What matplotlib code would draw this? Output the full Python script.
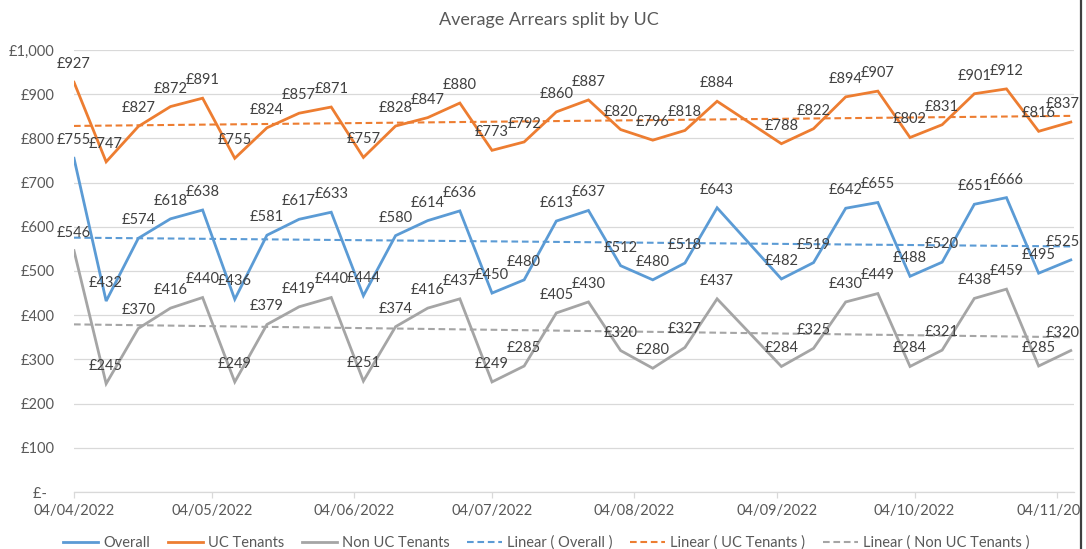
import numpy as np
import pandas as pd
import matplotlib
matplotlib.use('Agg')
import matplotlib.pyplot as plt
import matplotlib.dates as mdates
from matplotlib.lines import Line2D
from matplotlib.patches import Rectangle
from matplotlib.ticker import FuncFormatter

plt.rcParams['font.family'] = ['Lato', 'DejaVu Sans']

# weekly figures (no return for the bank holiday week of 29/08/2022)
dates = pd.to_datetime([
    '2022-04-04', '2022-04-11', '2022-04-18', '2022-04-25', '2022-05-02',
    '2022-05-09', '2022-05-16', '2022-05-23', '2022-05-30', '2022-06-06',
    '2022-06-13', '2022-06-20', '2022-06-27', '2022-07-04', '2022-07-11',
    '2022-07-18', '2022-07-25', '2022-08-01', '2022-08-08', '2022-08-15',
    '2022-08-22', '2022-09-05', '2022-09-12', '2022-09-19', '2022-09-26',
    '2022-10-03', '2022-10-10', '2022-10-17', '2022-10-24', '2022-10-31',
    '2022-11-07',
])
overall = [755, 432, 574, 618, 638, 436, 581, 617, 633, 444, 580, 614, 636, 450, 480, 613,
           637, 512, 480, 518, 643, 482, 519, 642, 655, 488, 520, 651, 666, 495, 525]
uc_tenants = [927, 747, 827, 872, 891, 755, 824, 857, 871, 757, 828, 847, 880, 773, 792, 860,
              887, 820, 796, 818, 884, 788, 822, 894, 907, 802, 831, 901, 912, 816, 837]
non_uc_tenants = [546, 245, 370, 416, 440, 249, 379, 419, 440, 251, 374, 416, 437, 249, 285, 405,
                  430, 320, 280, 327, 437, 284, 325, 430, 449, 284, 321, 438, 459, 285, 320]

series = [
    ('Overall', overall, '#5B9BD5'),
    ('UC Tenants', uc_tenants, '#ED7D31'),
    ('Non UC Tenants', non_uc_tenants, '#A5A5A5'),
]

W, H = 1086, 549
fig = plt.figure(figsize=(W / 100, H / 100), dpi=100)
ax = fig.add_axes([74 / W, (H - 492) / H, 1000 / W, 442 / H])

x = mdates.date2num(dates)
handles = []
for name, vals, col in series:
    ln, = ax.plot(dates, vals, color=col, lw=2.0, solid_joinstyle='miter', zorder=3, label=name)
    handles.append(ln)
    for i, (d, v) in enumerate(zip(dates, vals)):
        if i == len(vals) - 1:
            # Excel pushes the last label back inside the chart area
            ax.annotate(f'£{v}', (d, v), xytext=(6.5, 13), textcoords='offset points',
                        ha='right', va='center', fontsize=10.5, color='#404040', zorder=5)
        else:
            ax.annotate(f'£{v}', (d, v), xytext=(0, 13), textcoords='offset points',
                        ha='center', va='center', fontsize=10.5, color='#404040', zorder=5)

# linear trendlines, as Excel adds them
for name, vals, col in series:
    k, b = np.polyfit(x, vals, 1)
    ends = np.array([x[0], x[-1]])
    ln, = ax.plot(mdates.num2date(ends), k * ends + b, color=col, lw=1.5,
                  dashes=(3.2, 1.8), zorder=2, label=f'Linear ( {name} )')
    handles.append(ln)

ax.set_ylim(0, 1000)
ax.set_xlim(x[0], x[-1] + 0.7)
ax.set_yticks(np.arange(0, 1001, 100))
ax.yaxis.set_major_formatter(FuncFormatter(lambda v, p: '£-  ' if v == 0 else f'£{v:,.0f}'))
ax.xaxis.set_major_locator(mdates.MonthLocator(bymonthday=4))
ax.xaxis.set_major_formatter(mdates.DateFormatter('%d/%m/%Y'))

ax.grid(axis='y', color='#D9D9D9', lw=0.9, zorder=0)
for s in ['top', 'right', 'left']:
    ax.spines[s].set_visible(False)
ax.spines['bottom'].set_color('#D9D9D9')
ax.spines['bottom'].set_linewidth(0.9)
ax.tick_params(axis='y', length=0, pad=14, labelsize=10.5, labelcolor='#595959')
ax.tick_params(axis='x', length=4, width=0.9, color='#D9D9D9', pad=5,
               labelsize=10.5, labelcolor='#595959')

fig.text(0.505, 1 - 20 / H, 'Average Arrears split by UC', ha='center', va='center',
         fontsize=13, color='#595959')

fig.legend(handles=handles, loc='center', bbox_to_anchor=(0.503, 1 - 543 / H), ncol=6,
           frameon=False, fontsize=10.5, labelcolor='#595959', handlelength=2.4,
           handletextpad=0.35, columnspacing=1.2)

# screenshot edge on the right
fig.patches.append(Rectangle((1082 / W, 0), 4 / W, 1, transform=fig.transFigure,
                             facecolor='white', edgecolor='none', zorder=10))
fig.lines.append(Line2D([1081 / W, 1081 / W], [0, 1], transform=fig.transFigure,
                        color='#3F3F3F', lw=1.6, zorder=11))

fig.savefig('out.png', dpi=100)
